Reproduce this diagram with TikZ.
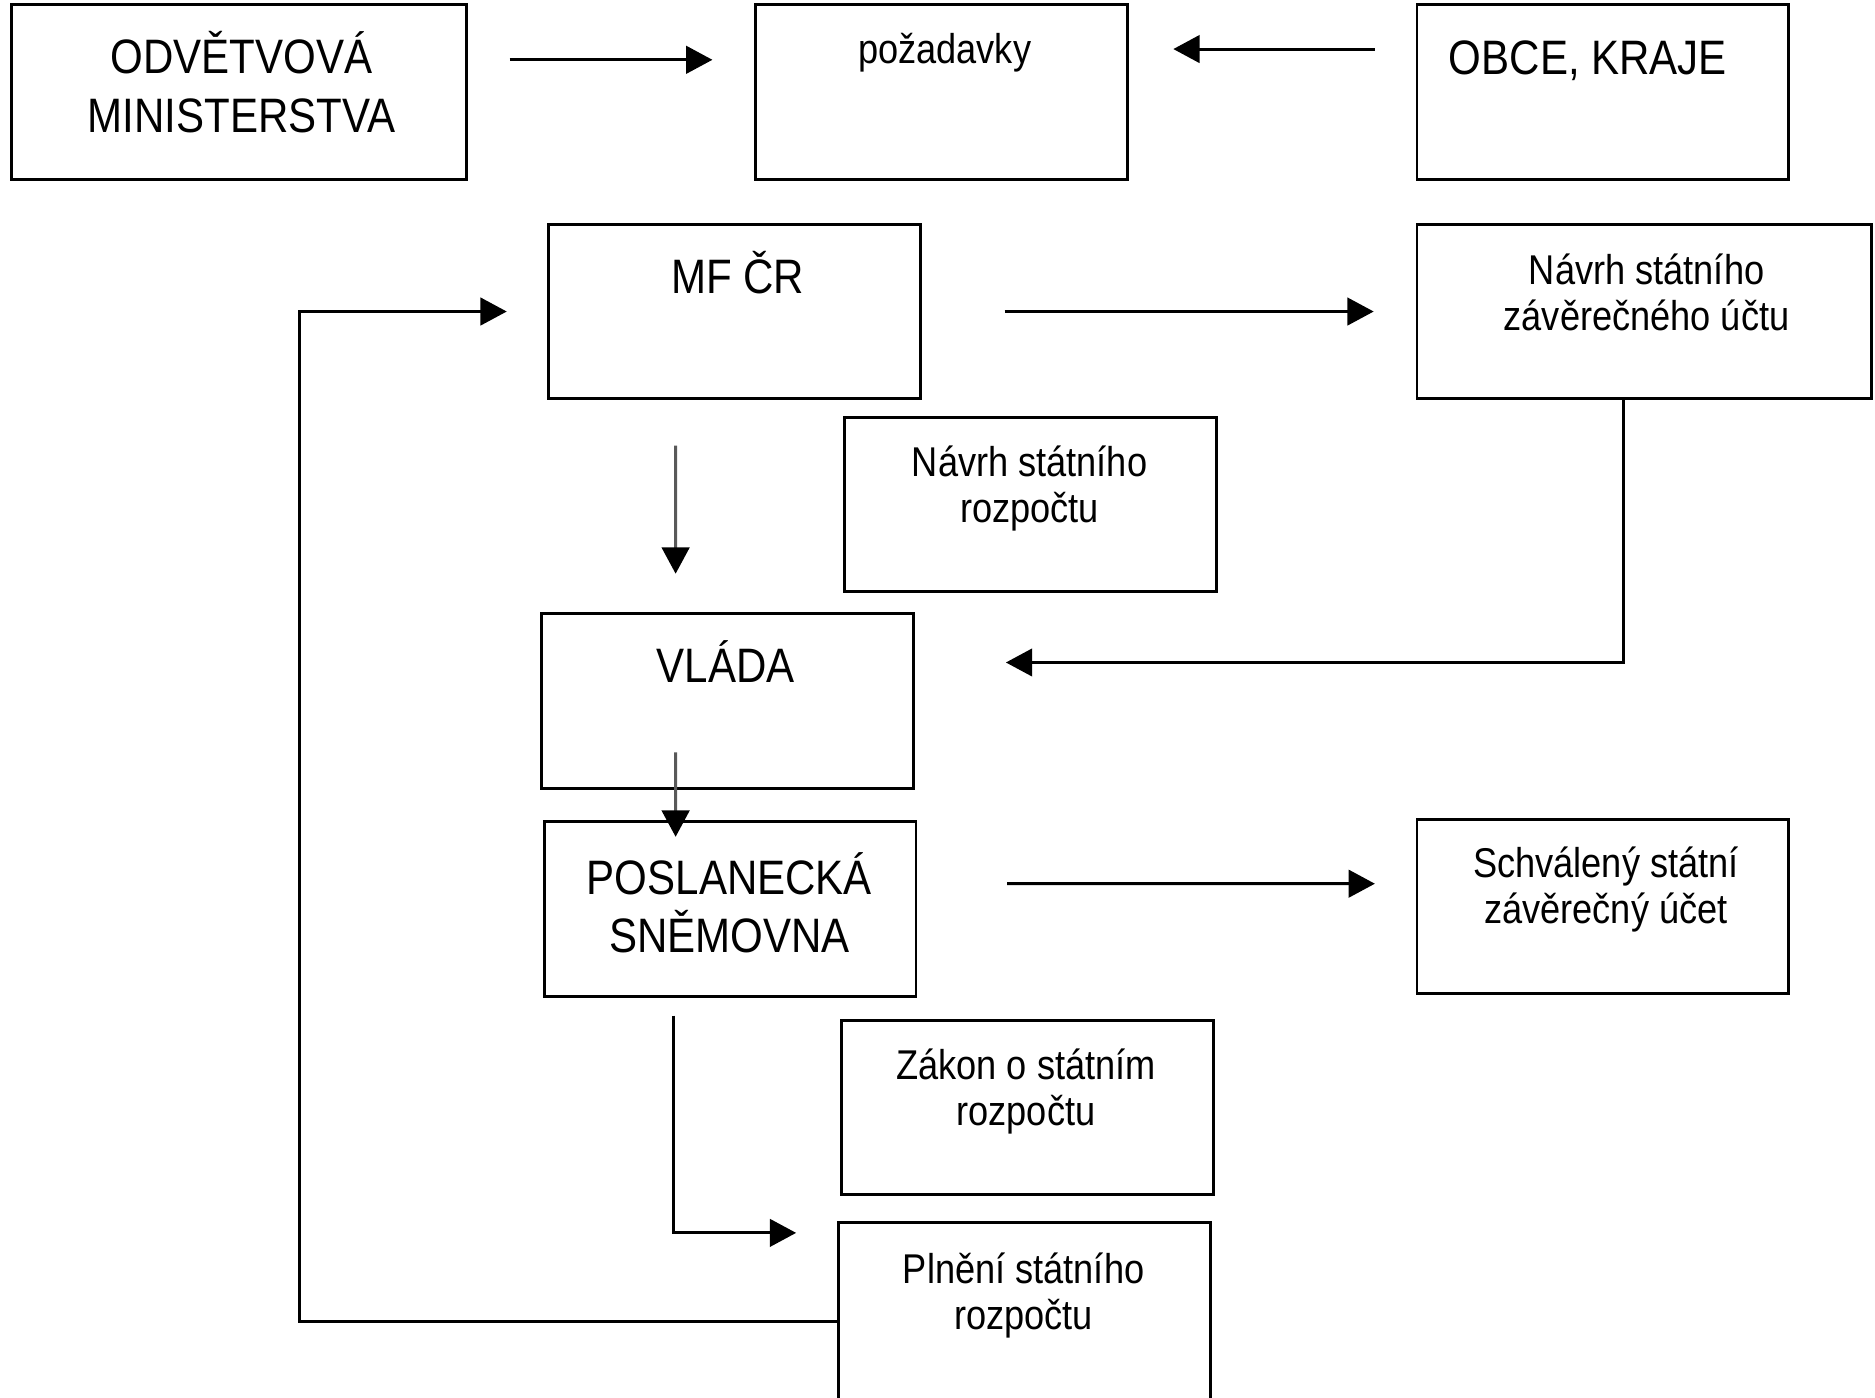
\documentclass[tikz,border=0pt]{standalone}
\usepackage{fontspec}
\setmainfont[FakeStretch=0.87]{Liberation Sans}
\usetikzlibrary{arrows.meta,positioning}

\begin{document}
\begin{tikzpicture}[x=0.1mm,y=-0.1mm,->,>={Triangle[length=2.2mm,width=2.3mm]},
                    line width=0.7pt,
                    box/.style={draw,rectangle,minimum width=31.1mm,minimum height=14.6mm,inner sep=0pt},
                    wbox/.style={box,minimum width=38mm},
                    big/.style={anchor=base,align=center,inner sep=0pt,font=\fontsize{11.5}{13.9}\selectfont},
                    small/.style={anchor=base,align=center,inner sep=0pt,font=\fontsize{9.9}{10.95}\selectfont},
                    down/.style={draw=black!65,-{Triangle[length=2.2mm,width=2.3mm,color=black]}}]
  \useasboundingbox (0,0) rectangle (1568,1168.3);

  % boxes
  \node[wbox] (odv)   at (200,77)      {};
  \node[box]  (poz)   at (787.5,77)    {};
  \node[box]  (obce)  at (1340.5,77)   {};
  \node[box]  (mf)    at (614.5,260.5) {};
  \node[wbox] (nzu)   at (1375,260.5)  {};
  \node[box]  (nsr)   at (861.5,422)   {};
  \node[box]  (vlada) at (608.5,586)   {};
  \node[box]  (psp)   at (610.5,760)   {};
  \node[box]  (szu)   at (1340.5,758)  {};
  \node[box]  (zak)   at (859.5,926)   {};
  \node[box,minimum height=16mm] (pln) at (856.5,1102) {};

  % texts (base = baseline of the last line)
  \node[big]   (odvT)   at (202,110.5)  {ODVĚTVOVÁ\\MINISTERSTVA};
  \node[small] (pozT)   at (790,53)     {požadavky};
  \node[big]   (obceT)  at (1328,62.5)  {OBCE, KRAJE};
  \node[big]   (mfT)    at (617,245.5)  {MF ČR};
  \node[small] (nzuT)   at (1377,276)   {Návrh státního\\závěrečného účtu};
  \node[small] (nsrT)   at (861,437)    {Návrh státního\\rozpočtu};
  \node[big]   (vladaT) at (607,570.5)  {VLÁDA};
  \node[big]   (pspT)   at (610,796.5)  {POSLANECKÁ\\SNĚMOVNA};
  \node[small] (szuT)   at (1343,772)   {Schválený státní\\závěrečný účet};
  \node[small] (zakT)   at (858,941)    {Zákon o státním\\rozpočtu};
  \node[small] (plnT)   at (856,1112)   {Plnění státního\\rozpočtu};

  % arrows
  \draw ([xshift=3.5mm,yshift=2.7mm]odv.east) -- ([xshift=-3.5mm,yshift=2.7mm]poz.west);
  \draw ([xshift=-3.4mm,yshift=3.6mm]obce.west) -- ([xshift=3.7mm,yshift=3.6mm]poz.east);
  \draw ([xshift=6.9mm]mf.east) -- ([xshift=-3.5mm]nzu.west);
  \draw[down] ([xshift=-4.95mm,yshift=-3.8mm]mf.south) -- ([xshift=-4.35mm,yshift=3.2mm]vlada.north);
  \draw ([xshift=-1.7mm]nzu.south) |- ([xshift=7.6mm,yshift=3.2mm]vlada.east);
  \draw[down] ([xshift=-4.35mm,yshift=3.1mm]vlada.south) -- ([xshift=-4.55mm,yshift=-1.4mm]psp.north);
  \draw ([xshift=7.5mm,yshift=2.1mm]psp.east) -- ([xshift=-3.4mm,yshift=1.9mm]szu.west);
  \draw ([xshift=-4.75mm,yshift=-1.5mm]psp.south) |- ([xshift=-3.4mm,yshift=7.1mm]pln.west);
  \draw ([yshift=-0.3mm]pln.west) -- ++(-449,0) |- ([xshift=-3.4mm]mf.west);
\end{tikzpicture}
\end{document}
